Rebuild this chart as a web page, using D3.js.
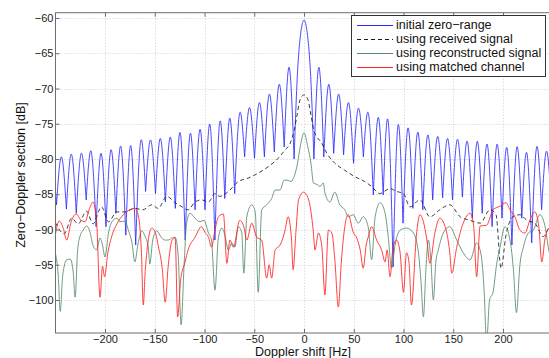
<!DOCTYPE html>
<html>
<head>
<meta charset="utf-8">
<script src="https://cdn.jsdelivr.net/npm/d3@7"></script>
<style>
    body { margin: 0; background: #fff; }
    svg { display: block; font-family: "Liberation Sans", Arial, sans-serif; }
</style>
</head>
<body>
<svg id="chart" width="549" height="358"></svg>
<script>
// tick labels
const xTicks = [-200, -150, -100, -50, 0, 50, 100, 150, 200];
const yTicks = [-60, -65, -70, -75, -80, -85, -90, -95, -100];

// initial zero-range: lobes between nulls spaced ~9.95 Hz
const lobeStep = 9.95;
// null depths, k = -26..-1 then 1..25
const blueNullDb = [-86.0, -86.5, -87.1, -87.7, -85.8, -89.6, -89.6, -87.7, -90.8, -92.2,
    -84.6, -84.9, -86.1, -87.0, -91.5, -87.2, -87.2, -91.5, -85.6, -84.9,
    -79.7, -79.9, -79.7, -79.0, -78.3, -80.0,
    -80.0, -79.7, -79.2, -79.4, -80.6, -79.7, -85.1, -85.1, -95.3, -89.1,
    -87.0, -87.2, -85.8, -85.5, -85.8, -85.4, -88.4, -87.7, -89.6, -88.4,
    -92.2, -88.4, -91.9, -87.2, -87.0];
// side lobe peaks, left to right (main lobe excluded)
const bluePeakDb = [-80.0, -79.7, -79.3, -79.2, -78.9, -79.2, -78.7, -78.2, -78.1, -77.5,
    -77.3, -77.1, -76.9, -76.3, -76.4, -75.8, -75.1, -74.7, -74.2, -73.5,
    -72.7, -72.0, -70.8, -69.4, -67.0,
    -67.0, -69.4, -70.8, -72.0, -72.8, -73.5, -74.1, -74.6, -75.2, -75.6,
    -76.2, -76.6, -76.8, -77.1, -77.2, -77.5, -77.5, -77.9, -77.9, -78.4,
    -78.3, -79.1, -78.3, -78.9];
const mainLobe = [[-8, -72.3], [-5, -64.5], [0, -60.3], [5, -64.5], [8, -72.3]];

// using received signal  [Hz, dB]
const received = [[-250, -89.0], [-241, -90.6], [-233.5, -88.4], [-227, -89.2], [-218.5, -87.4],
    [-212, -89.2], [-203.5, -86.8], [-196.5, -88.9], [-188, -87.5], [-180, -87.5],
    [-170, -87.0], [-162, -87.2], [-153, -86.5], [-146.5, -87.0], [-138, -85.3],
    [-129.5, -86.2], [-123.5, -86.7], [-116.5, -87.2], [-109.5, -86.1], [-103, -85.8],
    [-96, -86.1], [-89.5, -84.9], [-84.5, -85.3], [-76, -84.6], [-66, -83.2],
    [-56, -82.7], [-46, -82.0], [-36, -81.1], [-26, -79.9], [-19, -78.7],
    [-14, -77.8], [-10, -76.0], [-7, -73.8], [-4, -71.6], [0, -70.9],
    [4, -71.6], [7, -73.8], [10, -76.0], [18, -77.8], [23, -79.2],
    [31, -80.6], [41, -81.6], [51, -82.5], [61, -83.2], [68, -83.9],
    [76, -84.9], [86.5, -84.2], [93, -84.6], [100, -84.9], [106.5, -86.8], [116.5, -85.8],
    [126.5, -88.2], [136.5, -87.2], [146.5, -86.5], [157, -88.2], [167, -88.7],
    [177, -89.1], [187, -87.2], [193, -87.9], [198, -95.5], [203, -90.8],
    [210, -88.2], [217, -87.9], [224, -88.7], [232, -89.1], [240.5, -91.0],
    [246, -89.8], [250, -89.5]];

// using reconstructed signal
const reconstructed = [[-250, -93.3], [-247, -96.5], [-245, -101.6], [-242.5, -96.5], [-238.5, -94.3],
    [-235, -94.2], [-232, -96.0], [-230, -99.6], [-227.5, -92.9], [-225, -90.9],
    [-222, -90.1], [-218.5, -89.5], [-215, -90.4], [-212, -92.3], [-208.5, -92.9],
    [-205, -91.2], [-202.5, -92.2], [-200, -93.9], [-196.5, -90.5], [-193, -88.9],
    [-188, -88.4], [-185, -88.9], [-180, -88.8], [-176.5, -90.1], [-173, -91.8],
    [-170, -94.6], [-167, -92.2], [-163, -90.2], [-160, -90.9], [-156.5, -92.5],
    [-155, -94.9], [-152, -91.5], [-148, -90.2], [-143, -91.2], [-139.5, -91.5],
    [-136.5, -91.5], [-132.5, -91.2], [-129.5, -91.1], [-126.5, -93.6], [-123.5, -103.5],
    [-120.5, -95.0], [-118, -89.1], [-114.5, -87.7], [-109.5, -88.4], [-104.5, -88.9],
    [-100.5, -88.7], [-96, -90.5], [-93, -91.5], [-89.5, -98.6], [-86, -91.1],
    [-82.5, -89.8], [-79.5, -90.8], [-76, -92.9], [-72.5, -91.9], [-69.5, -92.5],
    [-66, -89.6], [-62.5, -90.5], [-60.5, -96.2], [-57.5, -88.2], [-52.5, -86.5],
    [-49, -87.5], [-46, -98.9], [-42.5, -87.2], [-37.5, -86.5], [-32.5, -85.6],
    [-29, -84.4], [-24, -84.4], [-20, -83.0], [-17, -83.0], [-13, -83.2],
    [-10, -82.5], [-6.5, -80.6], [-4, -78.4], [0, -76.3], [4, -78.4],
    [7, -80.6], [9.5, -83.4], [13, -83.6], [16, -83.9], [19.5, -83.4],
    [21, -84.8], [26, -86.1], [31, -84.7], [36, -86.5], [41, -87.2],
    [44.5, -88.2], [49.5, -87.9], [54.5, -89.1], [59.5, -88.2], [64.5, -89.6],
    [68, -94.3], [71.5, -88.2], [76.5, -86.2], [81.5, -87.7], [84.5, -90.8],
    [88, -95.5], [91.5, -92.2], [96.5, -90.1], [103, -89.8], [110, -90.5],
    [115, -93.3], [117.5, -97.2], [120, -102.4], [122.5, -95.7], [125, -91.5],
    [127.5, -94.3], [130, -100.0], [132.5, -94.6], [135, -92.9], [140, -90.5],
    [146.5, -89.6], [153.5, -91.5], [160, -93.3], [167, -94.3], [173.5, -91.9],
    [178, -93.6], [181, -98.6], [183.5, -106.0], [186.5, -100.0], [190, -98.9],
    [193.5, -95.0], [197, -92.5], [202, -89.6], [207, -91.5], [210.5, -95.7],
    [213.5, -101.8], [217, -95.0], [220.5, -92.5], [225.5, -90.5], [230.5, -90.1],
    [237, -87.9], [242, -89.4], [246, -92.9], [250, -95.0]];

// using matched channel
const matched = [[-250, -90.8], [-246, -88.8], [-242, -89.8], [-238.5, -91.5], [-234, -88.9],
    [-229, -87.8], [-224, -88.7], [-220, -88.9], [-216, -87.2], [-212, -86.1],
    [-208.5, -88.7], [-205, -99.6], [-202.5, -95.2], [-200.5, -96.7], [-197, -93.2],
    [-193.5, -91.1], [-188, -89.2], [-181.5, -87.9], [-175, -87.2], [-170, -87.0],
    [-166, -88.4], [-163.5, -92.9], [-161.5, -100.7], [-159.5, -95.7], [-153, -89.8],
    [-149.5, -90.4], [-146.5, -92.3], [-142.5, -95.5], [-139.5, -100.3], [-136.5, -95.2],
    [-132.5, -91.5], [-129.5, -91.2], [-127, -102.4], [-124, -97.2], [-119.5, -94.6],
    [-116.5, -92.9], [-109.5, -91.1], [-103, -89.6], [-99.5, -90.4], [-96, -91.1],
    [-93, -92.5], [-89.5, -90.1], [-86, -88.2], [-81, -87.8], [-77.5, -94.8],
    [-74.5, -91.5], [-71, -92.5], [-64.5, -88.7], [-60.5, -89.6], [-57.5, -91.5],
    [-52.5, -89.1], [-47.5, -91.1], [-42.5, -91.5], [-37.5, -96.9], [-35, -95.0],
    [-32.5, -96.9], [-29, -92.9], [-24, -92.2], [-19, -90.1], [-16, -88.2],
    [-12.5, -91.5], [-11, -95.7], [-8, -90.1], [-5.5, -85.8], [-0.5, -84.7],
    [4, -85.5], [9.5, -90.5], [11, -92.9], [14.5, -90.5], [18, -92.5],
    [21, -99.3], [24.5, -90.1], [28, -90.5], [31, -94.3], [34.5, -101.0],
    [37.5, -94.6], [41, -89.6], [44.5, -87.9], [49.5, -90.4], [53, -91.2],
    [56.5, -92.9], [59.5, -95.5], [62.5, -92.2], [64.5, -91.1], [68, -89.6],
    [73, -91.5], [78, -92.9], [81.5, -94.6], [83.5, -92.9], [86.5, -96.7],
    [89.5, -92.5], [93, -91.5], [96.5, -93.2], [100, -98.9], [103, -93.3],
    [105.5, -94.6], [108, -100.7], [113, -90.8], [116.5, -87.9], [120, -88.9],
    [123.5, -91.5], [126.5, -94.8], [131.5, -90.5], [136.5, -88.4], [143.5, -90.5],
    [146.5, -93.3], [148.5, -96.2], [153.5, -92.5], [160, -89.1], [167, -87.7],
    [170.5, -89.5], [173.5, -96.7], [177, -89.5], [183.5, -89.4], [190, -87.2],
    [197, -86.7], [203, -86.2], [207, -87.2], [212, -88.2], [217, -90.1],
    [222, -90.5], [227, -88.7], [232, -87.5], [236, -89.6], [239, -94.6],
    [242, -91.5], [246, -89.8], [250, -89.5]];

const seriesNames = ['initial zero\u2212range', 'using received signal',
    'using reconstructed signal', 'using matched channel'];
const colors = ['#2a2aff', '#1a1a1a', '#578a6c', '#ff2020'];
const dashes = [null, '4,3', null, null];

let svg = d3.select('#chart');

let plot = {left: 55.5, top: 12.7, right: 553, bottom: 333};

let x = d3.scaleLinear().domain([-200, 200]).range([105, 503]),
    y = d3.scaleLinear().domain([-60, -100]).range([18, 300]);

const fmt = d => d < 0 ? '\u2212' + Math.abs(d) : String(d);

// dotted grid
let grid = svg.append('g').attr('stroke', '#cfcfcf').attr('stroke-dasharray', '1,2').attr('stroke-width', 1);
grid.selectAll('.gx').data(xTicks).enter().append('line')
    .attr('x1', d => Math.round(x(d)) + 0.5).attr('x2', d => Math.round(x(d)) + 0.5)
    .attr('y1', plot.top).attr('y2', plot.bottom);
grid.selectAll('.gy').data(yTicks).enter().append('line')
    .attr('x1', plot.left).attr('x2', plot.right)
    .attr('y1', d => Math.round(y(d)) + 0.5).attr('y2', d => Math.round(y(d)) + 0.5);

// curves, clipped to the axes box
svg.append('clipPath').attr('id', 'clip').append('rect')
    .attr('x', plot.left).attr('y', plot.top)
    .attr('width', plot.right - plot.left).attr('height', plot.bottom - plot.top);
let g = svg.append('g').attr('clip-path', 'url(#clip)').attr('fill', 'none');

// blue: each lobe is a smooth arch between two nulls
let nullK = d3.range(-26, 26).filter(k => k !== 0);
let nulls = nullK.map((k, i) => [k * lobeStep, blueNullDb[i]]);
let lobes = [], p = 0;
for (let i = 0; i < nulls.length - 1; i++) {
    let a = nulls[i], b = nulls[i + 1];
    if (a[0] < 0 && b[0] > 0) {
        lobes.push([a].concat(mainLobe, [b]));
    } else {
        lobes.push([a, [(a[0] + b[0]) / 2, bluePeakDb[p++]], b]);
    }
}
let lobeLine = d3.line().x(d => x(d[0])).y(d => y(d[1])).curve(d3.curveNatural);
g.append('path')
    .attr('d', lobes.map(l => lobeLine(l)).join(''))
    .attr('stroke', colors[0]).attr('stroke-width', 0.85);

let line = d3.line().x(d => x(d[0])).y(d => y(d[1])).curve(d3.curveMonotoneX);

[received, reconstructed, matched].forEach((s, i) => {
    g.append('path').datum(s).attr('d', line)
        .attr('stroke', colors[i + 1]).attr('stroke-width', 0.85)
        .attr('stroke-dasharray', dashes[i + 1]);
});

// axes box and inward ticks
let axisColor = '#6e6e6e';
let xb = svg.append('g').attr('transform', `translate(0,${plot.bottom})`)
    .call(d3.axisBottom(x).tickValues(xTicks).tickFormat(fmt).tickSizeInner(-4).tickSizeOuter(0).tickPadding(2));
let xt = svg.append('g').attr('transform', `translate(0,${plot.top})`)
    .call(d3.axisTop(x).tickValues(xTicks).tickFormat('').tickSizeInner(-4).tickSizeOuter(0));
let yl = svg.append('g').attr('transform', `translate(${plot.left},0)`)
    .call(d3.axisLeft(y).tickValues(yTicks).tickFormat(fmt).tickSizeInner(-4).tickSizeOuter(0).tickPadding(2));
[xb, xt, yl].forEach(a => {
    a.select('.domain').remove();
    a.selectAll('line').attr('stroke', axisColor);
    a.selectAll('text').attr('fill', '#222').style('font-size', '11px')
        .style('font-family', '"Liberation Sans", Arial, sans-serif');
});
svg.append('rect')
    .attr('x', plot.left).attr('y', plot.top)
    .attr('width', plot.right - plot.left).attr('height', plot.bottom - plot.top)
    .attr('fill', 'none').attr('stroke', axisColor).attr('stroke-width', 1);

// axis titles
svg.append('text')
    .attr('transform', 'translate(21,175) rotate(-90)')
    .attr('text-anchor', 'middle').attr('dy', '0.35em')
    .style('font-size', '12.5px').attr('fill', '#111')
    .text('Zero\u2212Doppler section [dB]');
svg.append('text')
    .attr('x', 303).attr('y', 356)
    .attr('text-anchor', 'middle')
    .style('font-size', '12.5px').attr('fill', '#111')
    .text('Doppler shift [Hz]');

// legend
let lg = svg.append('g');
lg.append('rect').attr('x', 351.5).attr('y', 15.5).attr('width', 194).attr('height', 61)
    .attr('fill', '#fff').attr('stroke', '#333').attr('stroke-width', 1);
seriesNames.forEach((name, i) => {
    let ry = 25 + i * 14;
    lg.append('line')
        .attr('x1', 357).attr('x2', 393).attr('y1', ry + 0.5).attr('y2', ry + 0.5)
        .attr('stroke', colors[i]).attr('stroke-width', 1)
        .attr('stroke-dasharray', dashes[i]);
    lg.append('text')
        .attr('x', 396).attr('y', ry).attr('dy', '0.35em')
        .style('font-size', '12.5px').attr('fill', '#111')
        .text(name);
});
</script>
</body>
</html>
